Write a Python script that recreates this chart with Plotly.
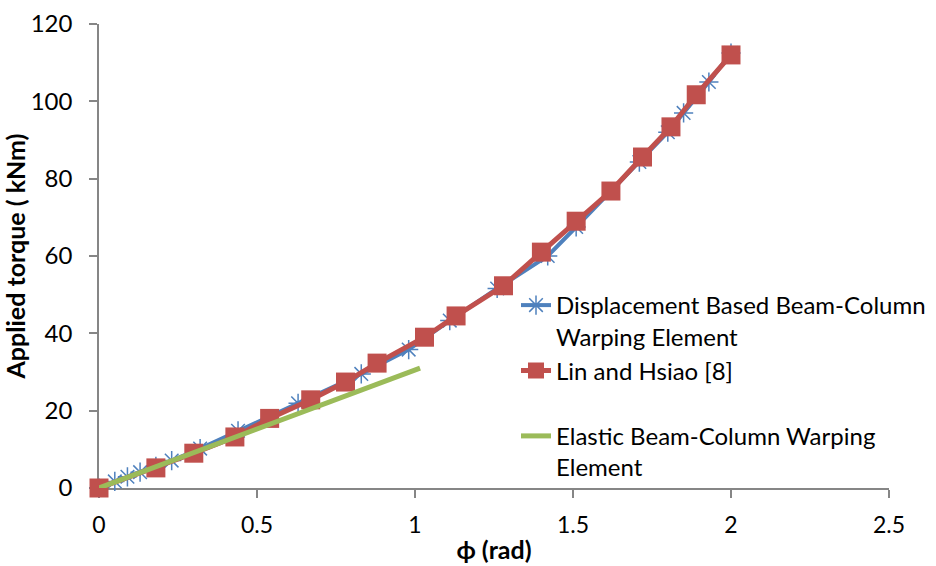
import plotly.graph_objects as go

# Displacement Based Beam-Column Warping Element
disp_phi = [0, 0.05, 0.09, 0.13, 0.18, 0.23, 0.32, 0.44, 0.63, 0.83, 0.98, 1.11, 1.26, 1.42, 1.51, 1.71, 1.80, 1.85, 1.93, 2.00]
disp_T = [0, 1.7, 2.9, 4.1, 5.6, 7.1, 10.2, 14.8, 21.9, 29.5, 35.8, 43.3, 51.6, 60.0, 67.5, 84.3, 92.0, 97.0, 105.0, 112.5]

# Lin and Hsiao [8]
lin_phi = [0, 0.18, 0.30, 0.43, 0.54, 0.67, 0.78, 0.88, 1.03, 1.13, 1.28, 1.40, 1.51, 1.62, 1.72, 1.81, 1.89, 2.00]
lin_T = [0, 5.2, 9.0, 13.2, 18.0, 22.8, 27.4, 32.3, 39.0, 44.5, 52.3, 61.0, 69.0, 76.8, 85.6, 93.4, 101.7, 112.0]

# Elastic Beam-Column Warping Element
el_phi = [0, 0.25, 0.5, 0.75, 1.016]
el_T = [0, 7.6, 15.3, 22.9, 31.0]

x_ticks = [0, 0.5, 1, 1.5, 2, 2.5]
y_ticks = [0, 20, 40, 60, 80, 100, 120]

FONT = "Lato, Carlito, 'Open Sans', sans-serif"
AX = "#868686"

fig = go.Figure()
fig.add_trace(go.Scatter(
    x=disp_phi, y=disp_T, mode="lines+markers",
    name="Displacement Based Beam-Column<br>Warping Element",
    line=dict(color="#4F81BD", width=4),
    marker=dict(symbol="asterisk-open", size=16, color="#4F81BD", line=dict(color="#4F81BD", width=1.5)),
    cliponaxis=False,
))
fig.add_trace(go.Scatter(
    x=lin_phi, y=lin_T, mode="lines+markers",
    name="Lin and Hsiao [8]<br>\u00a0",
    line=dict(color="#C0504D", width=5),
    marker=dict(symbol="square", size=19, color="#C0504D"),
    cliponaxis=False,
))
fig.add_trace(go.Scatter(
    x=el_phi, y=el_T, mode="lines",
    name="Elastic Beam-Column Warping<br>Element",
    line=dict(color="#9BBB59", width=5),
    cliponaxis=False,
))

fig.update_layout(
    width=936, height=566,
    margin=dict(l=99, r=47, t=24, b=78, autoexpand=False),
    paper_bgcolor="white", plot_bgcolor="white",
    font=dict(family=FONT, size=24, color="black"),
    showlegend=True,
    legend=dict(
        xref="paper", yref="paper",
        x=(516 - 99) / 790, y=(488 - 283) / 464, xanchor="left", yanchor="top",
        font=dict(family=FONT, size=24, color="black"),
        valign="top", tracegroupgap=0, bgcolor="rgba(0,0,0,0)",
        itemwidth=30,
    ),
    xaxis=dict(
        range=[0, 2.5], tickvals=x_ticks, ticktext=[str(v) for v in x_ticks],
        showgrid=False, zeroline=False, showline=True, linecolor=AX, linewidth=1.5,
        ticks="outside", ticklen=8, tickcolor=AX, tickwidth=1.5,
        ticklabelstandoff=8, layer="below traces",
        tickfont=dict(family=FONT, size=23),
        title=dict(text="ϕ (rad)", font=dict(family=FONT, size=25, weight="bold"), standoff=4),
    ),
    yaxis=dict(
        range=[0, 120], tickvals=y_ticks,
        showgrid=False, zeroline=False, showline=True, linecolor=AX, linewidth=1.5,
        ticks="outside", ticklen=8, tickcolor=AX, tickwidth=1.5,
        ticklabelstandoff=12, layer="below traces",
        tickfont=dict(family=FONT, size=24),
        title=dict(text="Applied torque ( kNm)", font=dict(family=FONT, size=25, weight="bold"), standoff=2),
    ),
)

fig.write_html("out.html")
